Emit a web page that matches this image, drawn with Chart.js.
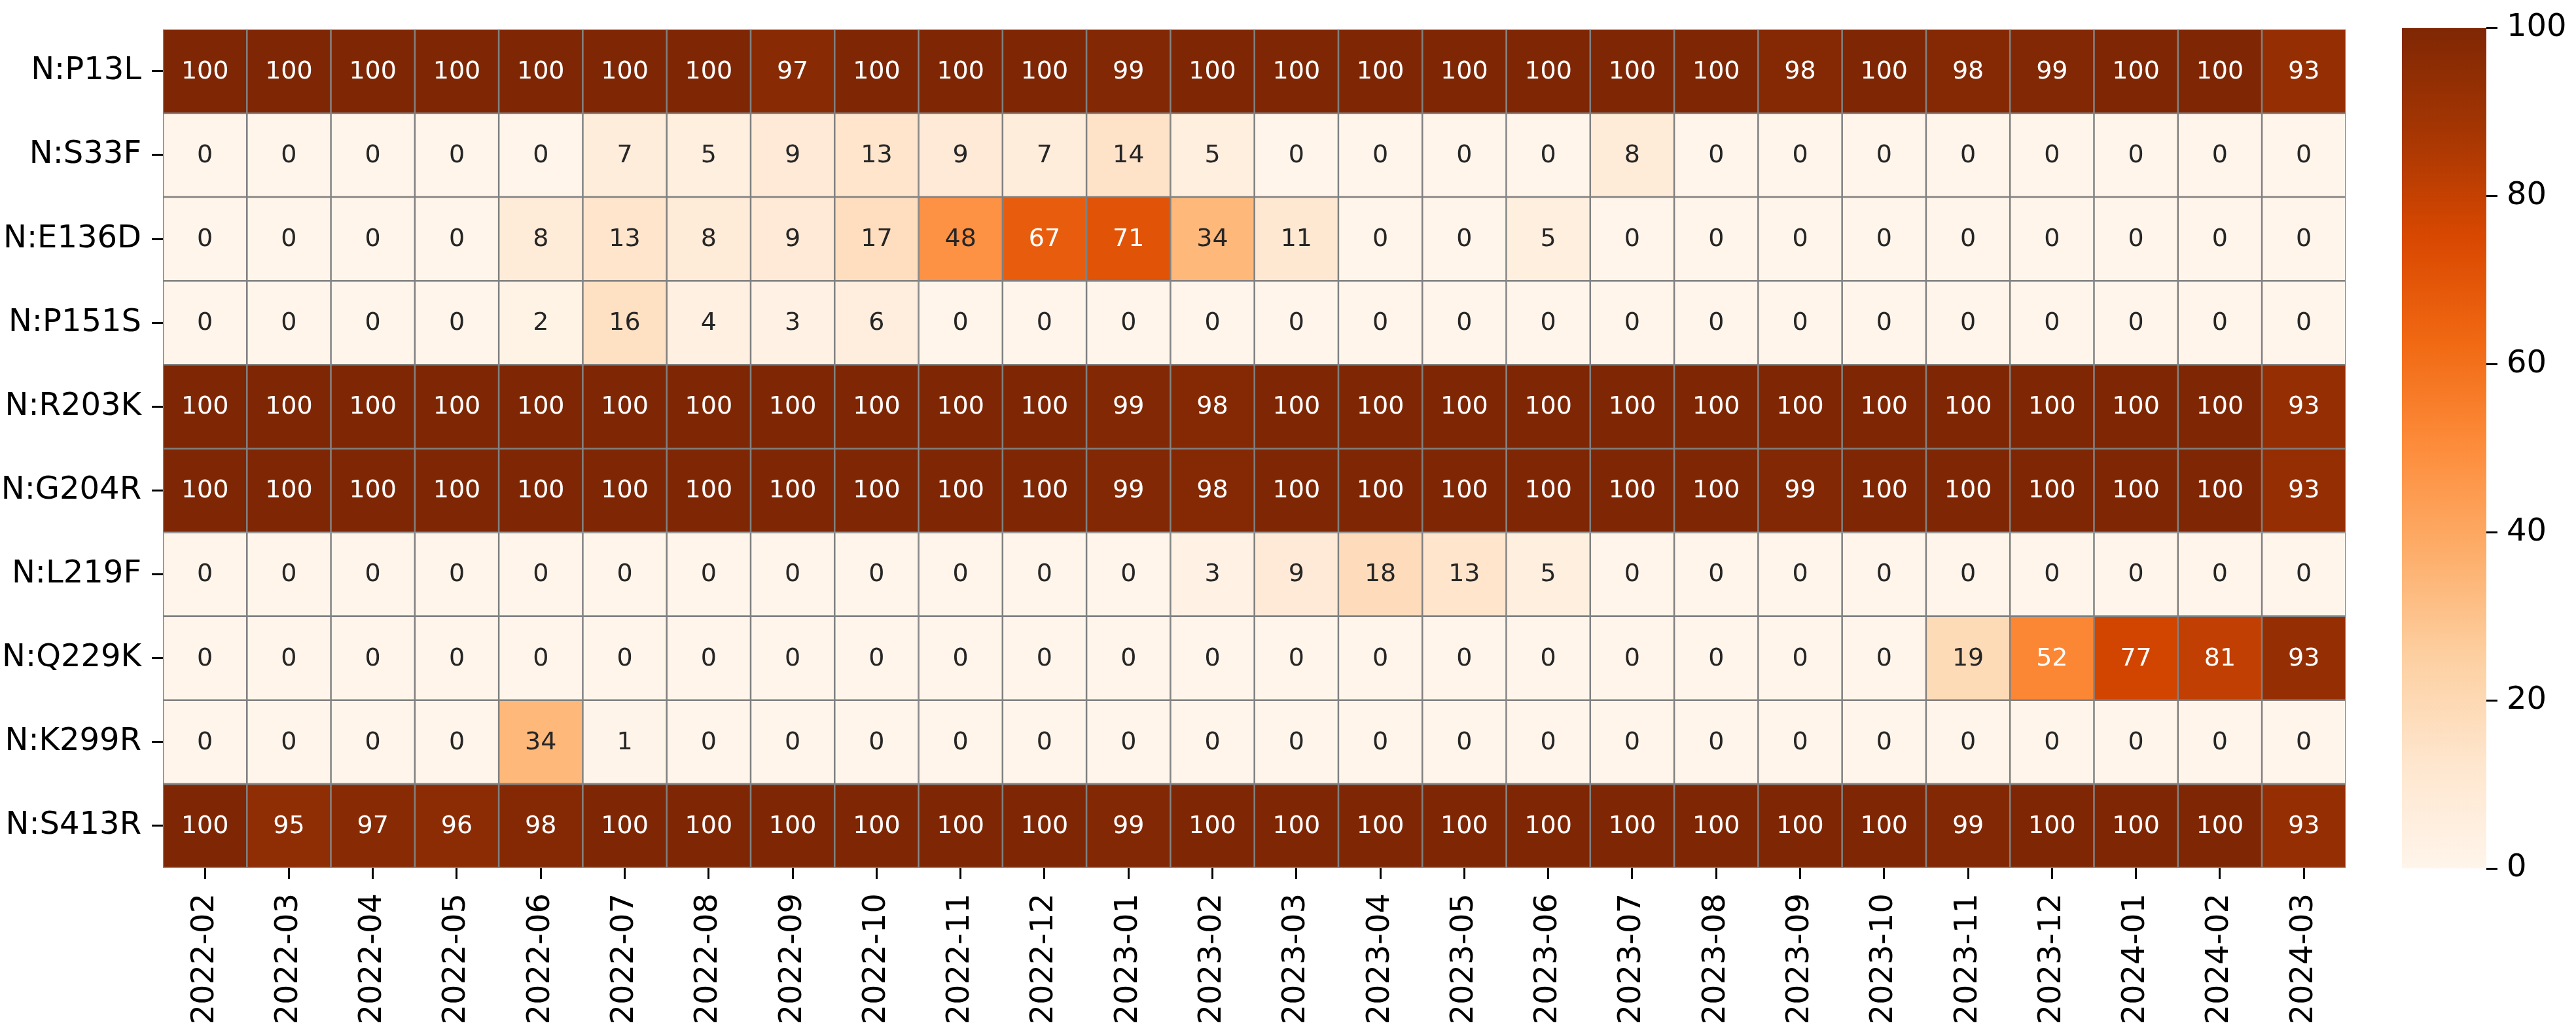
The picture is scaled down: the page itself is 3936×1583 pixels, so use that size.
<!DOCTYPE html>
<html>
<head>
<meta charset="utf-8">
<script src="https://cdn.jsdelivr.net/npm/chart.js@4.4.1/dist/chart.umd.min.js"></script>
<style>
  html, body { margin: 0; padding: 0; background: #ffffff; }
  #wrap { position: relative; width: 3936px; height: 1583px; overflow: hidden; background: #ffffff; }
  #heat { position: absolute; left: 0; top: 0; }
  #cbar { position: absolute; left: 3600px; top: 0; }
</style>
</head>
<body>
<div id="wrap">
  <canvas id="heat" width="3600" height="1583"></canvas>
  <canvas id="cbar" width="336" height="1583"></canvas>
</div>
<script>
// Months along the x axis
const months = [
  '2022-02', '2022-03', '2022-04', '2022-05', '2022-06', '2022-07', '2022-08',
  '2022-09', '2022-10', '2022-11', '2022-12', '2023-01', '2023-02', '2023-03',
  '2023-04', '2023-05', '2023-06', '2023-07', '2023-08', '2023-09', '2023-10',
  '2023-11', '2023-12', '2024-01', '2024-02', '2024-03'
];

// Mutations down the y axis (top to bottom)
const mutations = [
  'N:P13L', 'N:S33F', 'N:E136D', 'N:P151S', 'N:R203K',
  'N:G204R', 'N:L219F', 'N:Q229K', 'N:K299R', 'N:S413R'
];

// Prevalence (%) per month, one array per mutation
const P13L  = [100, 100, 100, 100, 100, 100, 100, 97, 100, 100, 100, 99, 100, 100, 100, 100, 100, 100, 100, 98, 100, 98, 99, 100, 100, 93];
const S33F  = [0, 0, 0, 0, 0, 7, 5, 9, 13, 9, 7, 14, 5, 0, 0, 0, 0, 8, 0, 0, 0, 0, 0, 0, 0, 0];
const E136D = [0, 0, 0, 0, 8, 13, 8, 9, 17, 48, 67, 71, 34, 11, 0, 0, 5, 0, 0, 0, 0, 0, 0, 0, 0, 0];
const P151S = [0, 0, 0, 0, 2, 16, 4, 3, 6, 0, 0, 0, 0, 0, 0, 0, 0, 0, 0, 0, 0, 0, 0, 0, 0, 0];
const R203K = [100, 100, 100, 100, 100, 100, 100, 100, 100, 100, 100, 99, 98, 100, 100, 100, 100, 100, 100, 100, 100, 100, 100, 100, 100, 93];
const G204R = [100, 100, 100, 100, 100, 100, 100, 100, 100, 100, 100, 99, 98, 100, 100, 100, 100, 100, 100, 99, 100, 100, 100, 100, 100, 93];
const L219F = [0, 0, 0, 0, 0, 0, 0, 0, 0, 0, 0, 0, 3, 9, 18, 13, 5, 0, 0, 0, 0, 0, 0, 0, 0, 0];
const Q229K = [0, 0, 0, 0, 0, 0, 0, 0, 0, 0, 0, 0, 0, 0, 0, 0, 0, 0, 0, 0, 0, 19, 52, 77, 81, 93];
const K299R = [0, 0, 0, 0, 34, 1, 0, 0, 0, 0, 0, 0, 0, 0, 0, 0, 0, 0, 0, 0, 0, 0, 0, 0, 0, 0];
const S413R = [100, 95, 97, 96, 98, 100, 100, 100, 100, 100, 100, 99, 100, 100, 100, 100, 100, 100, 100, 100, 100, 99, 100, 100, 100, 93];

const rowValues = [P13L, S33F, E136D, P151S, R203K, G204R, L219F, Q229K, K299R, S413R];

// Colour scale limits and colour bar ticks
const vmin = 0;
const vmax = 100;
const colorbarTicks = [0, 20, 40, 60, 80, 100];

// "Oranges" sequential palette, evenly spaced stops
const ORANGES = [
  [255, 245, 235], [254, 230, 206], [253, 208, 162], [253, 174, 107],
  [253, 141, 60], [241, 105, 19], [217, 72, 1], [166, 54, 3], [127, 39, 4]
];

function orangeRGB(v) {
  let t = (v - vmin) / (vmax - vmin);
  t = Math.max(0, Math.min(1, t));
  const pos = t * (ORANGES.length - 1);
  const i = Math.min(Math.floor(pos), ORANGES.length - 2);
  const f = pos - i;
  const a = ORANGES[i], b = ORANGES[i + 1];
  return [0, 1, 2].map(k => a[k] + (b[k] - a[k]) * f);
}
function rgbStr(c) {
  return 'rgb(' + c.map(x => Math.round(x)).join(',') + ')';
}
function luminance(c) {
  const lin = c.map(x => {
    const s = x / 255;
    return s <= 0.03928 ? s / 12.92 : Math.pow((s + 0.055) / 1.055, 2.4);
  });
  return 0.2126 * lin[0] + 0.7152 * lin[1] + 0.0722 * lin[2];
}

const FONT = "'DejaVu Sans', 'Liberation Sans', sans-serif";

// One floating-bar dataset per mutation row; each bar spans [row, row + 1]
const datasets = mutations.map((name, r) => ({
  label: name,
  data: months.map(() => [r, r + 1]),
  backgroundColor: ctx => rgbStr(orangeRGB(rowValues[r][ctx.dataIndex])),
  borderColor: '#808080',
  borderWidth: 1.6,
  borderSkipped: false,
  grouped: false,
  barPercentage: 1,
  categoryPercentage: 1
}));

// Writes each cell's value in its centre
const cellLabels = {
  id: 'cellLabels',
  afterDatasetsDraw(chart) {
    const ctx = chart.ctx;
    ctx.save();
    ctx.font = '38px ' + FONT;
    ctx.textAlign = 'center';
    ctx.textBaseline = 'middle';
    chart.data.datasets.forEach((ds, r) => {
      const meta = chart.getDatasetMeta(r);
      meta.data.forEach((bar, c) => {
        const p = bar.getProps(['x', 'y', 'base'], true);
        const v = rowValues[r][c];
        const col = orangeRGB(v);
        ctx.fillStyle = luminance(col) > 0.408 ? '#262626' : '#ffffff';
        ctx.fillText(String(Math.round(v)), p.x, (p.y + p.base) / 2 + 1);
      });
    });
    ctx.restore();
  }
};

new Chart(document.getElementById('heat'), {
  type: 'bar',
  data: { labels: months, datasets: datasets },
  options: {
    responsive: false,
    animation: false,
    devicePixelRatio: 1,
    layout: { padding: { left: 0, top: 41, right: 11, bottom: 0 } },
    plugins: { legend: { display: false }, tooltip: { enabled: false } },
    scales: {
      x: {
        type: 'category',
        offset: true,
        border: { display: false },
        grid: {
          offset: false,
          drawOnChartArea: false,
          drawTicks: true,
          tickLength: 17,
          tickWidth: 3,
          tickColor: '#000000'
        },
        ticks: {
          autoSkip: false,
          minRotation: 90,
          maxRotation: 90,
          padding: 22,
          color: '#000000',
          font: { family: FONT, size: 48 }
        },
        afterFit(scale) { scale.height = 257; }
      },
      y: {
        type: 'linear',
        min: 0,
        max: mutations.length,
        reverse: true,
        border: { display: false },
        grid: {
          drawOnChartArea: false,
          drawTicks: true,
          tickLength: 17,
          tickWidth: 3,
          tickColor: '#000000'
        },
        ticks: {
          autoSkip: false,
          padding: 16,
          color: '#000000',
          font: { family: FONT, size: 48 },
          callback: v => mutations[Math.floor(v)]
        },
        afterBuildTicks(scale) {
          scale.ticks = mutations.map((_, i) => ({ value: i + 0.5 }));
        },
        afterFit(scale) { scale.width = 249; }
      }
    }
  },
  plugins: [cellLabels]
});

// Colour bar: a single bar from vmin to vmax filled with the palette gradient
new Chart(document.getElementById('cbar'), {
  type: 'bar',
  data: {
    labels: [''],
    datasets: [{
      data: [[vmin, vmax]],
      backgroundColor: ctx => {
        const chart = ctx.chart;
        const area = chart.chartArea;
        if (!area) return rgbStr(ORANGES[0]);
        const y = chart.scales.y;
        const g = chart.ctx.createLinearGradient(0, y.getPixelForValue(vmin), 0, y.getPixelForValue(vmax));
        ORANGES.forEach((c, i) => g.addColorStop(i / (ORANGES.length - 1), rgbStr(c)));
        return g;
      },
      borderWidth: 0,
      barPercentage: 1,
      categoryPercentage: 1
    }]
  },
  options: {
    responsive: false,
    animation: false,
    devicePixelRatio: 1,
    layout: { padding: { left: 70, top: 40, right: 0, bottom: 256 } },
    plugins: { legend: { display: false }, tooltip: { enabled: false } },
    scales: {
      x: { display: false },
      y: {
        type: 'linear',
        position: 'right',
        min: vmin,
        max: vmax,
        border: { display: false },
        grid: {
          drawOnChartArea: false,
          drawTicks: true,
          tickLength: 17,
          tickWidth: 3,
          tickColor: '#000000'
        },
        ticks: {
          autoSkip: false,
          padding: 14,
          color: '#000000',
          font: { family: FONT, size: 48 }
        },
        afterBuildTicks(scale) {
          scale.ticks = colorbarTicks.map(v => ({ value: v }));
        },
        afterFit(scale) { scale.width = 137; }
      }
    }
  }
});
</script>
</body>
</html>
